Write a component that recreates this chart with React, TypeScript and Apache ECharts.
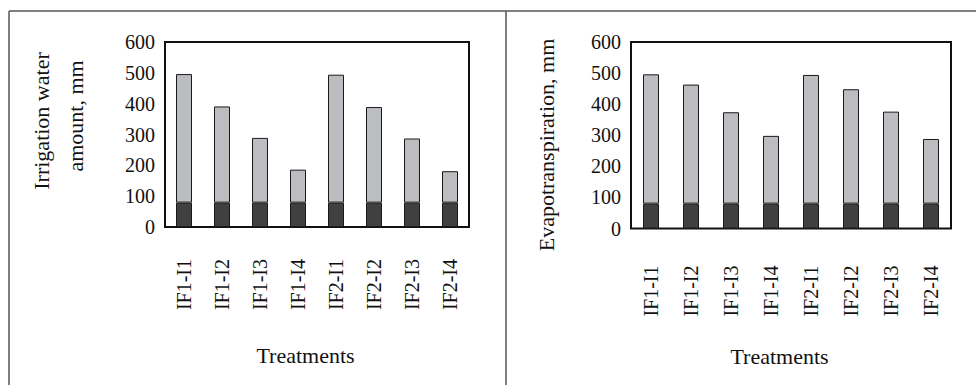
import React, { useEffect, useRef } from "react";
import * as echarts from "echarts";

const categories = ["IF1-I1", "IF1-I2", "IF1-I3", "IF1-I4", "IF2-I1", "IF2-I2", "IF2-I3", "IF2-I4"];
const yTicks = [0, 100, 200, 300, 400, 500, 600];

// Left chart: irrigation water amount (mm)
const irrigationBase = [79, 79, 79, 79, 79, 79, 79, 79];
const irrigationUpper = [417, 312, 210, 107, 415, 310, 208, 102];

// Right chart: evapotranspiration (mm)
const etBase = [80, 80, 80, 80, 80, 80, 80, 80];
const etUpper = [416, 383, 294, 218, 414, 368, 296, 208];

const leftYName1 = "Irrigation water";
const leftYName2 = "amount, mm";
const rightYName = "Evapotranspiration, mm";
const xName = "Treatments";

const FONT = "'Liberation Serif', 'Times New Roman', serif";
const TEXT = "#111";
const DARK = "#404040";
const LIGHT = "#BCBDC1";
const EDGE = "#1a1a1a";

export default function App() {
  const ref = useRef<HTMLDivElement>(null);
  useEffect(() => {
    if (!ref.current) return;
    const chart = echarts.init(ref.current, undefined, { renderer: "svg" });
    const yAxisBase = (gridIndex: number) => ({
      type: "value" as const,
      gridIndex,
      min: yTicks[0],
      max: yTicks[yTicks.length - 1],
      interval: 100,
      axisLine: { show: false },
      axisTick: { show: false },
      splitLine: { show: false },
      axisLabel: { color: TEXT, fontFamily: FONT, fontSize: 20, margin: 10 },
    });
    const xAxisBase = (gridIndex: number, margin: number) => ({
      type: "category" as const,
      gridIndex,
      data: categories,
      axisLine: { show: false },
      axisTick: { show: false },
      splitLine: { show: false },
      axisLabel: { color: TEXT, fontFamily: FONT, fontSize: 20, rotate: 90, margin, interval: 0 },
    });
    const barSeries = (idx: number, data: number[], color: string, stack: string) => ({
      type: "bar" as const,
      xAxisIndex: idx,
      yAxisIndex: idx,
      stack,
      data,
      barWidth: 16,
      itemStyle: { color, borderColor: EDGE, borderWidth: 1 },
      silent: true,
    });
    const lineStyle = { stroke: "#555", lineWidth: 1.5 };
    chart.setOption({
      animation: false,
      backgroundColor: "#fff",
      grid: [
        { left: 165, top: 42, width: 304, height: 185, show: true, borderColor: "#111", borderWidth: 2, backgroundColor: "transparent" },
        { left: 631, top: 42, width: 320, height: 186.5, show: true, borderColor: "#111", borderWidth: 2, backgroundColor: "transparent" },
      ],
      xAxis: [xAxisBase(0, 32), xAxisBase(1, 37)],
      yAxis: [yAxisBase(0), yAxisBase(1)],
      series: [
        barSeries(0, irrigationBase, DARK, "a"),
        barSeries(0, irrigationUpper, LIGHT, "a"),
        barSeries(1, etBase, DARK, "b"),
        barSeries(1, etUpper, LIGHT, "b"),
      ],
      graphic: [
        { type: "line", shape: { x1: 9, y1: 11, x2: 976, y2: 11 }, style: lineStyle },
        { type: "line", shape: { x1: 9, y1: 11, x2: 9, y2: 385 }, style: lineStyle },
        { type: "line", shape: { x1: 506, y1: 11, x2: 506, y2: 385 }, style: lineStyle },
        {
          type: "text", x: 41, y: 121, rotation: Math.PI / 2,
          style: { text: leftYName1, font: `22px ${FONT}`, fill: TEXT, align: "center", verticalAlign: "middle" },
        },
        {
          type: "text", x: 75, y: 116, rotation: Math.PI / 2,
          style: { text: leftYName2, font: `22px ${FONT}`, fill: TEXT, align: "center", verticalAlign: "middle" },
        },
        {
          type: "text", x: 546, y: 145, rotation: Math.PI / 2,
          style: { text: rightYName, font: `22px ${FONT}`, fill: TEXT, align: "center", verticalAlign: "middle" },
        },
        {
          type: "text", x: 305.5, y: 355,
          style: { text: xName, font: `22px ${FONT}`, fill: TEXT, align: "center", verticalAlign: "middle" },
        },
        {
          type: "text", x: 779.5, y: 356,
          style: { text: xName, font: `22px ${FONT}`, fill: TEXT, align: "center", verticalAlign: "middle" },
        },
      ],
    });
    return () => chart.dispose();
  }, []);
  return (
    <div
      ref={ref}
      style={{ position: "fixed", left: 0, top: 0, width: 976, height: 385, background: "#fff" }}
    />
  );
}
